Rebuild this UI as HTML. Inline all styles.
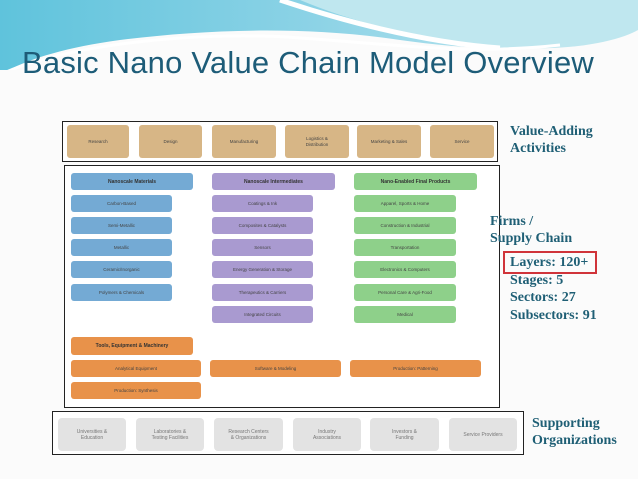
<!DOCTYPE html>
<html><head><meta charset="utf-8"><style>
body{margin:0;width:638px;height:479px;overflow:hidden;background:#fbfbfb;position:relative;font-family:"Liberation Sans",sans-serif}
.a{position:absolute;box-sizing:border-box}
.b{position:absolute;box-sizing:border-box;border-radius:3px;font-size:4.5px;color:#444;display:flex;align-items:center;justify-content:center;text-align:center;line-height:6px}
.t{background:#d7b686}.bl{background:#74aad4}.pu{background:#a99ad0}.gr{background:#8ed08a}.or{background:#e8924a}.gy{background:#e3e3e3;color:#777;font-size:5px;border-radius:4px}
.h{font-weight:bold;font-size:5px;color:#333}
.s{position:absolute;font-family:"Liberation Serif",serif;font-weight:bold;color:#1f5f75;font-size:14px;line-height:17px}
</style></head><body>
<svg class="a" style="left:0;top:0" width="638" height="70">
<defs><linearGradient id="g" x1="0" y1="0" x2="1" y2="0"><stop offset="0" stop-color="#5fc3dc"/><stop offset="0.5" stop-color="#8dd3e6"/><stop offset="1" stop-color="#c9ebf2"/></linearGradient></defs>
<path d="M0 0H638V30C560 55 470 50 400 40C300 25 200 30 120 40C60 48 20 62 0 75Z" fill="url(#g)"/>
<path d="M300 0C360 25 440 45 520 48C580 50 620 40 638 30V0Z" fill="#bfe7ef"/>
<path d="M280 0C340 20 420 42 500 48" stroke="#fff" stroke-width="5" fill="none"/>
<path d="M0 75C60 45 200 30 300 38C400 45 470 55 560 45" stroke="#fff" stroke-width="3" fill="none"/>
</svg>
<div class="a" style="left:22px;top:45px;font-size:31px;color:#1d5c78;white-space:nowrap;font-family:'Liberation Sans',sans-serif;letter-spacing:0.2px">Basic Nano Value Chain Model Overview</div>

<div class="a" style="left:62px;top:121px;width:436px;height:41px;border:1px solid #222;background:#fff"></div>
<div class="b t" style="left:67px;top:125px;width:62px;height:33px">Research</div>
<div class="b t" style="left:139px;top:125px;width:63px;height:33px">Design</div>
<div class="b t" style="left:212px;top:125px;width:64px;height:33px">Manufacturing</div>
<div class="b t" style="left:285px;top:125px;width:64px;height:33px">Logistics &amp;<br>Distribution</div>
<div class="b t" style="left:357px;top:125px;width:64px;height:33px">Marketing &amp; Sales</div>
<div class="b t" style="left:430px;top:125px;width:64px;height:33px">Service</div>
<div class="s" style="left:510px;top:123px">Value-Adding<br>Activities</div>

<div class="a" style="left:64px;top:165px;width:436px;height:243px;border:1px solid #222;background:#fff"></div>
<div class="b bl h" style="left:71px;top:173px;width:122px;height:17px">Nanoscale Materials</div>
<div class="b pu h" style="left:212px;top:173px;width:123px;height:17px">Nanoscale Intermediates</div>
<div class="b gr h" style="left:354px;top:173px;width:123px;height:17px">Nano-Enabled Final Products</div>

<div class="b bl" style="left:71px;top:195px;width:101px;height:17px">Carbon-Based</div>
<div class="b bl" style="left:71px;top:217px;width:101px;height:17px">Semi-Metallic</div>
<div class="b bl" style="left:71px;top:239px;width:101px;height:17px">Metallic</div>
<div class="b bl" style="left:71px;top:261px;width:101px;height:17px">Ceramic/Inorganic</div>
<div class="b bl" style="left:71px;top:284px;width:101px;height:17px">Polymers &amp; Chemicals</div>

<div class="b pu" style="left:212px;top:195px;width:101px;height:17px">Coatings &amp; Ink</div>
<div class="b pu" style="left:212px;top:217px;width:101px;height:17px">Composites &amp; Catalysts</div>
<div class="b pu" style="left:212px;top:239px;width:101px;height:17px">Sensors</div>
<div class="b pu" style="left:212px;top:261px;width:101px;height:17px">Energy Generation &amp; Storage</div>
<div class="b pu" style="left:212px;top:284px;width:101px;height:17px">Therapeutics &amp; Carriers</div>
<div class="b pu" style="left:212px;top:306px;width:101px;height:17px">Integrated Circuits</div>

<div class="b gr" style="left:354px;top:195px;width:102px;height:17px">Apparel, Sports &amp; Home</div>
<div class="b gr" style="left:354px;top:217px;width:102px;height:17px">Construction &amp; Industrial</div>
<div class="b gr" style="left:354px;top:239px;width:102px;height:17px">Transportation</div>
<div class="b gr" style="left:354px;top:261px;width:102px;height:17px">Electronics &amp; Computers</div>
<div class="b gr" style="left:354px;top:284px;width:102px;height:17px">Personal Care &amp; Agri-Food</div>
<div class="b gr" style="left:354px;top:306px;width:102px;height:17px">Medical</div>

<div class="b or h" style="left:71px;top:337px;width:122px;height:18px">Tools, Equipment &amp; Machinery</div>
<div class="b or" style="left:71px;top:360px;width:130px;height:17px">Analytical Equipment</div>
<div class="b or" style="left:210px;top:360px;width:131px;height:17px">Software &amp; Modeling</div>
<div class="b or" style="left:350px;top:360px;width:131px;height:17px">Production: Patterning</div>
<div class="b or" style="left:71px;top:382px;width:130px;height:17px">Production: Synthesis</div>

<div class="s" style="left:490px;top:213px">Firms /<br>Supply Chain</div>
<div class="a" style="left:503px;top:251px;width:94px;height:23px;border:2px solid #d0343a"></div>
<div class="s" style="left:510px;top:254px;line-height:17.5px">Layers: 120+<br>Stages: 5<br>Sectors: 27<br>Subsectors: 91</div>

<div class="a" style="left:52px;top:411px;width:472px;height:44px;border:1px solid #222;background:#fff"></div>
<div class="b gy" style="left:58px;top:418px;width:68px;height:33px">Universities &amp;<br>Education</div>
<div class="b gy" style="left:136px;top:418px;width:68px;height:33px">Laboratories &amp;<br>Testing Facilities</div>
<div class="b gy" style="left:214px;top:418px;width:69px;height:33px">Research Centers<br>&amp; Organizations</div>
<div class="b gy" style="left:293px;top:418px;width:68px;height:33px">Industry<br>Associations</div>
<div class="b gy" style="left:370px;top:418px;width:69px;height:33px">Investors &amp;<br>Funding</div>
<div class="b gy" style="left:449px;top:418px;width:68px;height:33px">Service Providers</div>
<div class="s" style="left:532px;top:415px">Supporting<br>Organizations</div>
</body></html>
